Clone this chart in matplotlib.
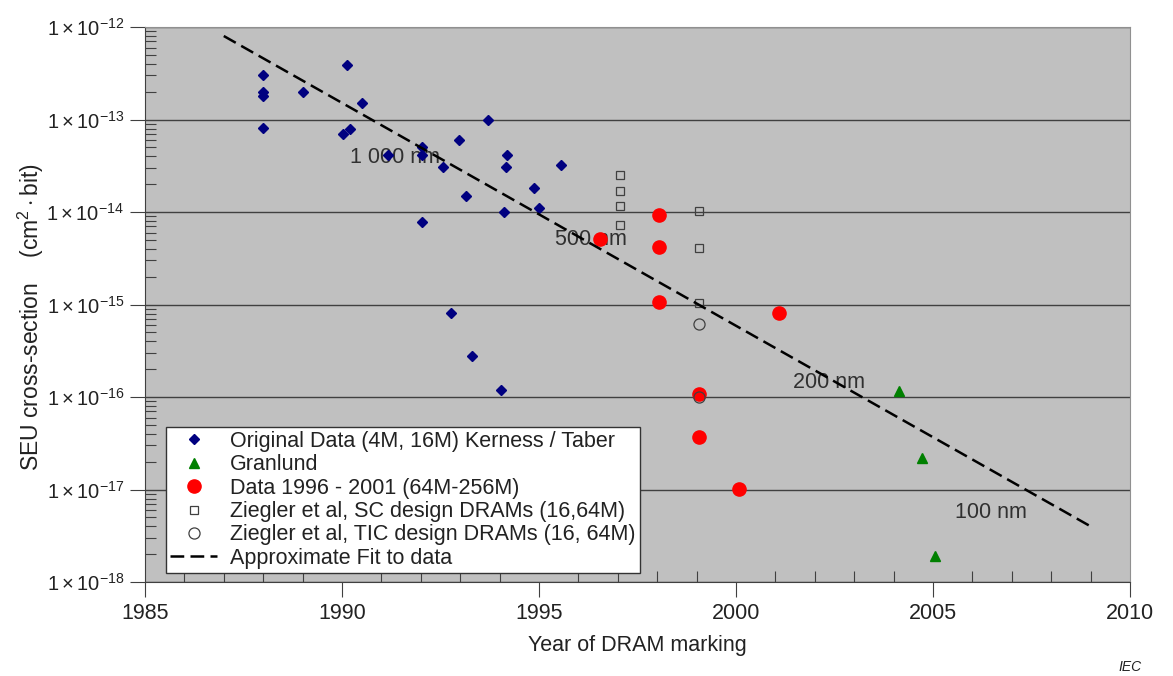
import matplotlib
matplotlib.use("Agg")
import matplotlib.pyplot as plt
import numpy as np

plt.rcParams['font.family'] = ['Liberation Sans', 'DejaVu Sans']
plt.rcParams['mathtext.fontset'] = 'custom'
plt.rcParams['mathtext.rm'] = 'Liberation Sans'
plt.rcParams['mathtext.it'] = 'Liberation Sans:italic'

# Original Data (4M, 16M) Kerness / Taber
kt_year = [1988.0, 1988.0, 1988.0, 1988.0, 1989.0, 1990.13, 1990.5, 1990.03, 1990.2,
           1991.17, 1992.03, 1992.03, 1992.56, 1992.97, 1993.7, 1994.2, 1994.17,
           1993.15, 1994.87, 1995.0, 1994.1, 1995.56, 1992.03, 1992.77, 1993.3, 1994.04]
kt_seu = [3.0e-13, 2.0e-13, 1.8e-13, 8.1e-14, 2.0e-13, 3.9e-13, 1.5e-13, 7.0e-14, 8.0e-14,
          4.1e-14, 5.0e-14, 4.1e-14, 3.1e-14, 6.0e-14, 1.0e-13, 4.1e-14, 3.1e-14,
          1.5e-14, 1.8e-14, 1.1e-14, 1.0e-14, 3.2e-14, 7.9e-15, 8.1e-16, 2.8e-16, 1.2e-16]

# Granlund
gr_year = [2004.14, 2004.72, 2005.05]
gr_seu = [1.16e-16, 2.2e-17, 1.9e-18]

# Data 1996 - 2001 (64M-256M)
d96_year = [1996.55, 1998.05, 1998.05, 1998.05, 2001.1, 1999.06, 1999.06, 2000.08]
d96_seu = [5.1e-15, 9.3e-15, 4.2e-15, 1.07e-15, 8.1e-16, 1.07e-16, 3.7e-17, 1.02e-17]

# Ziegler et al, SC design
sc_year = [1997.06, 1997.06, 1997.06, 1997.06, 1999.06, 1999.06, 1999.06]
sc_seu = [2.5e-14, 1.7e-14, 1.16e-14, 7.2e-15, 1.02e-14, 4.1e-15, 1.03e-15]

# Ziegler et al, TIC design
tic_year = [1999.06, 1999.06]
tic_seu = [6.2e-16, 1.0e-16]

# approximate fit (end points)
fit_year = [1987.0, 2009.0]
fit_seu = [8.0e-13, 4.0e-18]

# feature size annotations
node_labels = ['1 000 nm', '500 nm', '200 nm', '100 nm']
node_year = [1990.2, 1995.4, 2001.45, 2005.55]
node_seu = [3.9e-14, 5.1e-15, 1.45e-16, 5.7e-18]

FS = 15.5


def main():
    fig = plt.figure(figsize=(11.73, 6.76), dpi=100)
    ax = fig.add_axes([0.1236, 0.139, 0.8397, 0.821])
    ax.set_facecolor('#c0c0c0')

    ax.plot(kt_year, kt_seu, 'D', color='#000080', markersize=5.5, linestyle='none',
            label='Original Data (4M, 16M) Kerness / Taber', zorder=4)
    ax.plot(gr_year, gr_seu, '^', color='#008000', markersize=7.5, linestyle='none',
            label='Granlund', zorder=4)
    ax.plot(d96_year, d96_seu, 'o', color='#ff0000', markersize=9.5, linestyle='none',
            label='Data 1996 - 2001 (64M-256M)', zorder=4)
    ax.plot(sc_year, sc_seu, 's', mfc='none', mec='#404040', mew=0.9, markersize=6,
            linestyle='none', label='Ziegler et al, SC design DRAMs (16,64M)', zorder=4)
    ax.plot(tic_year, tic_seu, 'o', mfc='none', mec='#404040', mew=0.9, markersize=8,
            linestyle='none', label='Ziegler et al, TIC design DRAMs (16, 64M)', zorder=4)
    ax.plot(fit_year, fit_seu, color='black', linestyle=(0, (5.5, 2.5)), linewidth=1.8,
            label='Approximate Fit to data', zorder=5)

    for lbl, x, y in zip(node_labels, node_year, node_seu):
        ax.text(x, y, lbl, fontsize=FS, color='#303030', ha='left', va='center', zorder=3)

    ax.set_yscale('log')
    ax.set_xlim(1985, 2010)
    ax.set_ylim(1e-18, 1e-12)
    ax.set_xticks(np.arange(1985, 2011, 5))
    ax.set_xticks(np.arange(1985, 2011, 1), minor=True)
    decades = np.arange(-18, -11)
    ax.set_yticks([10.0 ** d for d in decades])
    ax.set_yticklabels([r'$1\times10^{%d}$' % d for d in decades])
    ax.yaxis.set_minor_locator(matplotlib.ticker.LogLocator(base=10, subs=np.arange(2, 10)))
    ax.yaxis.set_minor_formatter(matplotlib.ticker.NullFormatter())

    ax.grid(True, which='major', axis='y', color='#404040', linewidth=1.0, zorder=1)
    ax.set_axisbelow(True)
    ax.tick_params(which='major', direction='out', length=11, width=0.8, colors='#404040',
                   labelsize=FS, labelcolor='#222222', pad=4)
    ax.tick_params(axis='y', which='major', labelsize=14.5, pad=4)
    ax.tick_params(which='minor', direction='in', length=8, width=0.8, colors='#404040')

    for side in ['left', 'bottom']:
        ax.spines[side].set_color('#404040')
    for side in ['top', 'right']:
        ax.spines[side].set_color('#909090')

    ax.set_xlabel('Year of DRAM marking', fontsize=FS, color='#222222', labelpad=8)
    ax.set_ylabel(r'SEU cross-section    (cm$^2\cdot$bit)', fontsize=16.5, color='#222222')
    ax.yaxis.set_label_coords(-0.1, 0.477)

    leg = ax.legend(loc='lower left', bbox_to_anchor=(0.021, 0.016), fontsize=FS, frameon=True,
                    fancybox=False, edgecolor='#333333', framealpha=1.0, borderpad=0.2,
                    labelspacing=0.11, handletextpad=0.6, handlelength=2.2, borderaxespad=0)
    leg.get_frame().set_linewidth(1.0)
    for t in leg.get_texts():
        t.set_color('#222222')

    fig.text(0.973, 0.003, 'IEC', fontsize=10, style='italic', ha='right', va='bottom', color='#222222')

    fig.savefig('out.png', dpi=100)


if __name__ == "__main__":
    main()
